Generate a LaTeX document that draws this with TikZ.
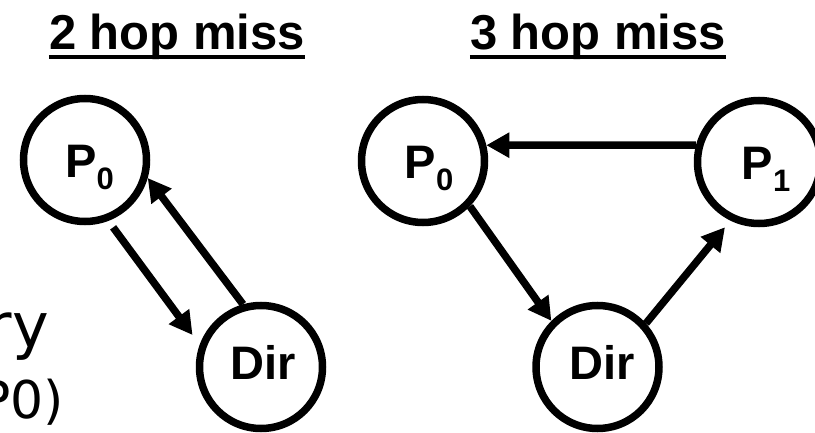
\documentclass[tikz,border=0pt]{standalone}
\usepackage{fontspec}
\setmainfont{Liberation Sans}
\newfontfamily\dejavu{DejaVu Sans}
\usetikzlibrary{arrows.meta,calc}
\newcommand\psub[1]{\raisebox{-12pt}{\fontsize{31}{31}\selectfont #1}}
\begin{document}
\begin{tikzpicture}[x=1pt,y=-1pt,
  proc/.style={circle,draw,line width=7.5pt,minimum size=123pt,inner sep=0pt,
    font=\bfseries\fontsize{47}{47}\selectfont,text height=36pt,text depth=0pt},
  dirnode/.style={proc,text height=24pt},
  msg/.style={line width=7.5pt,-{Triangle[length=23pt,width=24pt]}},
  title/.style={font=\bfseries\fontsize{49}{49}\selectfont,inner sep=0pt,anchor=base},
  uline/.style={line width=4pt},
  side/.style={inner sep=0pt,anchor=base east}]
\useasboundingbox (0,0) rectangle (815,433);
\clip (0,0) rectangle (815,433);

% titles
\node[title] (t2) at (177,50) {2 hop miss};
\node[title] (t3) at (598,50) {3 hop miss};
\draw[uline] ($(t2.base west)+(0,7)$) -- ($(t2.base east)+(0,7)$);
\draw[uline] ($(t3.base west)+(0,7)$) -- ($(t3.base east)+(0,7)$);

% left text (cut by the frame)
\node[side,font=\dejavu\fontsize{62}{62}\selectfont] (l1) at (49,347) {ry};
\node[side,font=\dejavu\fontsize{52}{52}\selectfont] (l2) at (64,418) {P0)};

% 2 hop miss
\node[proc] (p0a) at (85,160) {\hspace*{9pt}P\psub{0}};
\node[dirnode] (da) at (261,367) {\hspace*{4pt}Dir};
\draw[msg,shorten <=8pt,shorten >=12pt] (p0a.-69) -- (da.160);
\draw[msg] (da.106) -- (p0a.-16);

% 3 hop miss
\node[proc] (p0b) at (423,161) {\hspace*{12pt}P\psub{0}};
\node[proc] (p1) at (759,162) {\hspace*{14pt}P\psub{1}};
\node[dirnode] (db) at (597.5,367) {\hspace*{9pt}Dir};
\draw[msg] (p1.165) -- (p0b.14);
\draw[msg] (p0b.-44) -- (db.135);
\draw[msg,shorten >=8.5pt] (db.42) -- (p1.-116);
\end{tikzpicture}
\end{document}
